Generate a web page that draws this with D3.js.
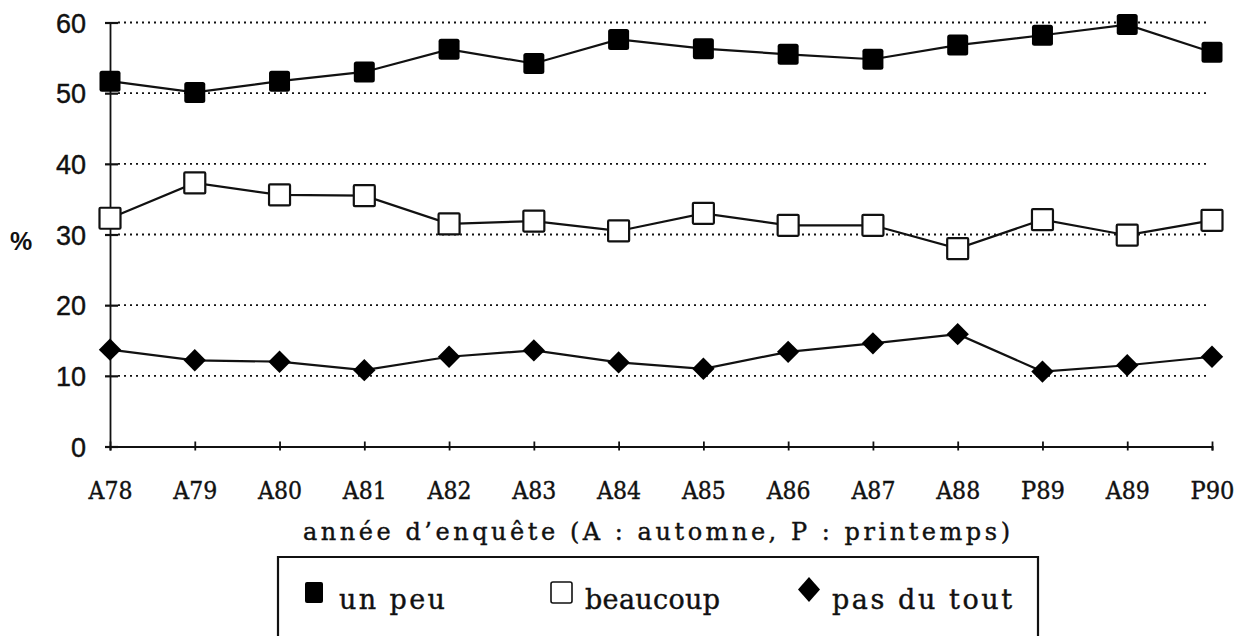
<!DOCTYPE html>
<html>
<head>
<meta charset="utf-8">
<script src="https://cdn.jsdelivr.net/npm/d3@7"></script>
<style>
  html, body { margin: 0; padding: 0; background: #fff; }
  svg { display: block; }
</style>
</head>
<body>
<svg id="chart" width="1241" height="636"></svg>
<script>
// ---- data ----
const categories = ["A78","A79","A80","A81","A82","A83","A84","A85","A86","A87","A88","P89","A89","P90"];
const unPeu     = [51.7, 50.1, 51.7, 53.0, 56.2, 54.2, 57.6, 56.3, 55.5, 54.8, 56.8, 58.2, 59.7, 55.8];
const beaucoup  = [32.3, 37.3, 35.6, 35.5, 31.5, 31.9, 30.5, 33.0, 31.3, 31.3, 28.0, 32.1, 29.9, 32.0];
const pasDuTout = [13.7, 12.2, 12.0, 10.8, 12.7, 13.6, 11.9, 11.0, 13.4, 14.6, 15.9, 10.6, 11.5, 12.7];
const yTicks = [0, 10, 20, 30, 40, 50, 60];
const gridTicks = [10, 20, 30, 40, 50, 60];
const seriesNames = ["un peu", "beaucoup", "pas du tout"];
const yLabel = "%";
const xTitle = "année d\u2019enquête (A : automne, P : printemps)";

// ---- layout ----
const svg = d3.select("#chart");
const x = d3.scalePoint().domain(categories).range([110, 1212]);
const y = d3.scaleLinear().domain([0, 60]).range([446.5, 22.5]);
const serif = "'DejaVu Serif', 'Liberation Serif', serif";
const sans = "'Liberation Sans', Arial, sans-serif";

// grid lines
svg.append("g").selectAll("line").data(gridTicks).join("line")
  .attr("x1", 118).attr("x2", 1208)
  .attr("y1", d => y(d)).attr("y2", d => y(d))
  .attr("stroke", "#111").attr("stroke-width", 1.8)
  .attr("stroke-dasharray", "2,4");

// y axis (left part with labels)
const yAxL = svg.append("g").attr("transform", "translate(110,0)")
  .call(d3.axisLeft(y).tickValues(yTicks).tickSize(5).tickPadding(19).tickFormat(d3.format("d")));
yAxL.select(".domain").attr("stroke", "#111").attr("stroke-width", 1.8);
yAxL.selectAll(".tick line").attr("stroke", "#111").attr("stroke-width", 2.2);
yAxL.selectAll("text").attr("font-family", sans)
  .attr("font-size", 27).attr("fill", "#111").attr("dy", "0.36em")
  .attr("stroke", "#111").attr("stroke-width", 0.4);
// y axis right tick stubs
const yAxR = svg.append("g").attr("transform", "translate(110,0)")
  .call(d3.axisRight(y).tickValues(yTicks).tickSize(8).tickFormat(""));
yAxR.select(".domain").remove();
yAxR.selectAll(".tick line").attr("stroke", "#111").attr("stroke-width", 2.2);

// x axis
const xAx = svg.append("g").attr("transform", `translate(0,${y(0)})`)
  .call(d3.axisBottom(x).tickSize(4).tickPadding(0));
xAx.select(".domain").attr("stroke", "#111").attr("stroke-width", 2);
xAx.selectAll(".tick line").attr("stroke", "#111").attr("stroke-width", 1.8);
xAx.selectAll("text").attr("font-family", serif)
  .attr("font-size", 24).attr("fill", "#111").attr("y", 52).attr("dy", 0)
  .attr("textLength", 44).attr("lengthAdjust", "spacingAndGlyphs")
  .attr("stroke", "#111").attr("stroke-width", 0.4);
const xAxT = svg.append("g").attr("transform", `translate(0,${y(0)})`)
  .call(d3.axisTop(x).tickSize(5).tickFormat(""));
xAxT.select(".domain").remove();
xAxT.selectAll(".tick line").attr("stroke", "#111").attr("stroke-width", 1.8);

// y label
svg.append("text").text(yLabel).attr("x", 21).attr("y", 250)
  .attr("font-family", sans).attr("font-weight", "bold")
  .attr("font-size", 25).attr("text-anchor", "middle").attr("fill", "#111");

// x title
svg.append("text").text(xTitle).attr("x", 303).attr("y", 540)
  .attr("font-family", serif).attr("font-size", 24).attr("fill", "#111")
  .attr("stroke", "#111").attr("stroke-width", 0.4)
  .attr("textLength", 707).attr("lengthAdjust", "spacing");

// ---- series ----
const line = d3.line().x((d, i) => x(categories[i])).y(d => y(d));
[unPeu, beaucoup, pasDuTout].forEach(s => {
  svg.append("path").datum(s).attr("d", line)
    .attr("fill", "none").attr("stroke", "#111").attr("stroke-width", 2.2);
});

const sq = 21;
svg.append("g").selectAll("rect").data(unPeu).join("rect")
  .attr("x", (d, i) => x(categories[i]) - sq / 2).attr("y", d => y(d) - sq / 2)
  .attr("width", sq).attr("height", sq).attr("rx", 2.5).attr("fill", "#000");

svg.append("g").selectAll("rect").data(beaucoup).join("rect")
  .attr("x", (d, i) => x(categories[i]) - sq / 2).attr("y", d => y(d) - sq / 2)
  .attr("width", sq).attr("height", sq).attr("rx", 1)
  .attr("fill", "#fff").attr("stroke", "#111").attr("stroke-width", 2.2);

const diamond = d3.symbol().type(d3.symbolSquare).size(250);
svg.append("g").selectAll("path").data(pasDuTout).join("path")
  .attr("d", diamond)
  .attr("transform", (d, i) => `translate(${x(categories[i])},${y(d)}) rotate(45)`)
  .attr("fill", "#000");

// ---- legend ----
const lg = svg.append("g");
lg.append("path").attr("d", "M278,640 L278,557 L1038,557 L1038,640")
  .attr("fill", "none").attr("stroke", "#111").attr("stroke-width", 2.2);
lg.append("rect").attr("x", 305).attr("y", 582).attr("width", 18).attr("height", 21)
  .attr("rx", 2).attr("fill", "#000");
lg.append("rect").attr("x", 551).attr("y", 582).attr("width", 21).attr("height", 21)
  .attr("rx", 2).attr("fill", "#fff").attr("stroke", "#111").attr("stroke-width", 1.6);
lg.append("path").attr("d", "M809,577 L820,589.5 L809,602 L798,589.5 Z").attr("fill", "#000");
const legX = [339, 585, 832];
const legW = [106, 135, 180];
lg.selectAll("text.leg").data(seriesNames).join("text").attr("class", "leg")
  .text(d => d).attr("x", (d, i) => legX[i]).attr("y", 609)
  .attr("font-family", serif).attr("font-size", 27).attr("fill", "#111")
  .attr("stroke", "#111").attr("stroke-width", 0.4)
  .attr("textLength", (d, i) => legW[i]).attr("lengthAdjust", "spacing");
</script>
</body>
</html>
